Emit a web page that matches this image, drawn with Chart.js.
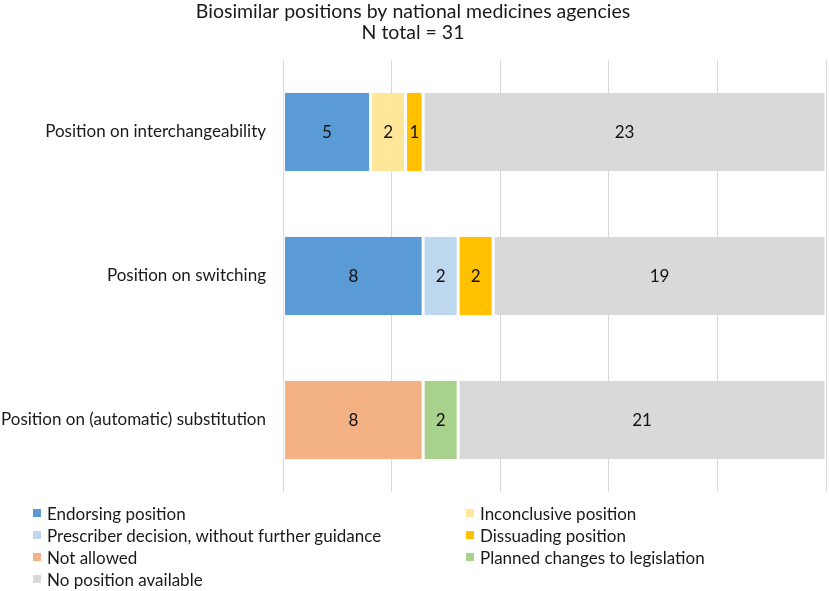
<!DOCTYPE html>
<html>
<head>
<meta charset="utf-8">
<script src="https://cdn.jsdelivr.net/npm/chart.js@4.4.1/dist/chart.umd.min.js"></script>
<style>
  html, body { margin: 0; padding: 0; background: #fff; }
  #wrap { position: relative; width: 829px; height: 591px; }
  #legend {
    position: absolute; left: 33px; top: 502px; width: 790px;
    display: grid; grid-template-columns: 433px 1fr; row-gap: 0;
    font-family: Lato, sans-serif; font-size: 17px; color: #1a1a1a;
  }
  #legend .item { display: flex; align-items: center; height: 22px; white-space: nowrap; }
  #legend .sw { width: 8px; height: 8px; margin-right: 6px; flex: none; }
</style>
</head>
<body>
<div id="wrap">
  <canvas id="chart" width="829" height="591"></canvas>
  <div id="legend"></div>
</div>
<script>
// chart values
const categories = [
    'Position on interchangeability',
    'Position on switching',
    'Position on (automatic) substitution'
];
const seriesNames = [
    'Endorsing position',
    'Inconclusive position',
    'Prescriber decision, without further guidance',
    'Dissuading position',
    'Not allowed',
    'Planned changes to legislation',
    'No position available'
];
const endorsing    = [5, 8, 0];
const inconclusive = [2, 0, 0];
const prescriber   = [0, 2, 0];
const dissuading   = [1, 2, 0];
const notAllowed   = [0, 0, 8];
const planned      = [0, 0, 2];
const noPosition   = [23, 19, 21];
const nTotal = 31;

const seriesValues = [endorsing, inconclusive, prescriber, dissuading, notAllowed, planned, noPosition];
const colors = ['#5B9BD5', '#FFE699', '#BDD7EE', '#FFC000', '#F4B183', '#A9D18E', '#D9D9D9'];

const FONT = 'Lato, sans-serif';

// draws the count in the middle of each segment
const segmentLabels = {
    id: 'segmentLabels',
    afterDatasetsDraw(chart) {
        const ctx = chart.ctx;
        ctx.save();
        ctx.font = '17px ' + FONT;
        ctx.fillStyle = '#111';
        ctx.textAlign = 'center';
        ctx.textBaseline = 'middle';
        chart.data.datasets.forEach((ds, i) => {
            const meta = chart.getDatasetMeta(i);
            meta.data.forEach((bar, j) => {
                const v = ds.data[j];
                if (!v) return;
                const cx = (bar.x + bar.base) / 2;
                ctx.fillText(String(v), cx, bar.y + 1);
            });
        });
        ctx.restore();
    }
};

const datasets = seriesNames.map((name, i) => ({
    label: name,
    data: seriesValues[i],
    backgroundColor: colors[i],
    borderColor: '#ffffff',
    borderWidth: { left: 1.5, right: 1.5, top: 0, bottom: 0 },
    borderSkipped: false,
    barPercentage: 1,
    categoryPercentage: 0.545
}));

const chart = new Chart(document.getElementById('chart'), {
    type: 'bar',
    data: { labels: categories, datasets },
    options: {
        indexAxis: 'y',
        responsive: false,
        animation: false,
        layout: { padding: { left: 0, right: 3, top: 1, bottom: 99 } },
        plugins: {
            legend: { display: false },
            tooltip: { enabled: false },
            title: {
                display: true,
                text: ['Biosimilar positions by national medicines agencies', 'N total = ' + nTotal],
                color: '#1a1a1a',
                font: { family: FONT, size: 19.5, weight: 'normal', lineHeight: 1.1 },
                padding: { top: 0, bottom: 16 }
            }
        },
        scales: {
            x: {
                stacked: true,
                min: 0,
                max: nTotal,
                ticks: { display: false, stepSize: nTotal / 5 },
                grid: { color: '#D9D9D9', lineWidth: 1, drawTicks: false },
                border: { display: false }
            },
            y: {
                stacked: true,
                grid: { display: false, drawTicks: false },
                border: { display: false },
                ticks: { color: '#1a1a1a', font: { family: FONT, size: 17 }, padding: 17 },
                afterFit(scale) { scale.width = 283; }
            }
        }
    },
    plugins: [segmentLabels]
});

// two-column legend below the chart
const legend = document.getElementById('legend');
seriesNames.forEach((name, i) => {
    const item = document.createElement('div');
    item.className = 'item';
    const sw = document.createElement('span');
    sw.className = 'sw';
    sw.style.background = colors[i];
    const txt = document.createElement('span');
    txt.textContent = name;
    item.appendChild(sw);
    item.appendChild(txt);
    legend.appendChild(item);
});
</script>
</body>
</html>
